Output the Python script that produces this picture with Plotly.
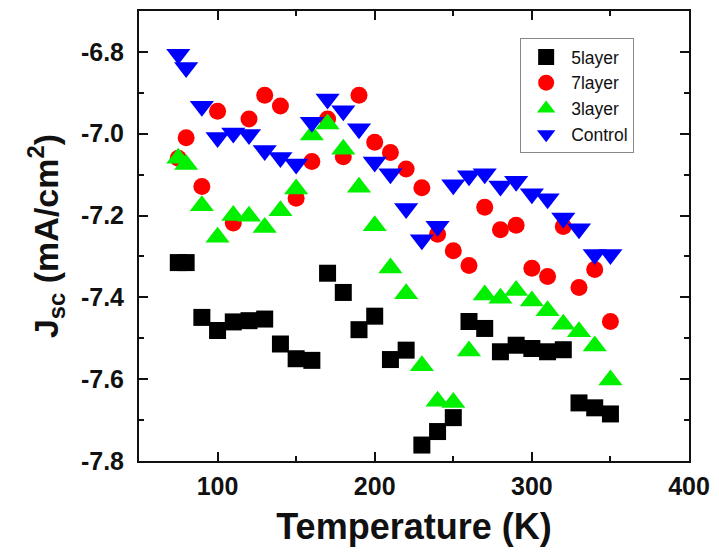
import plotly.graph_objects as go

# Temperature points (K)
temperature = [75, 80, 90, 100, 110, 120, 130, 140, 150, 160, 170, 180, 190, 200,
               210, 220, 230, 240, 250, 260, 270, 280, 290, 300, 310, 320, 330, 340, 350]

# Short-circuit current density (mA/cm^2) for each device
jsc_5layer = [-7.315, -7.315, -7.449, -7.481, -7.460, -7.457, -7.453, -7.514, -7.550, -7.554,
              -7.341, -7.388, -7.479, -7.446, -7.552, -7.529, -7.761, -7.728, -7.694, -7.459,
              -7.476, -7.533, -7.517, -7.525, -7.533, -7.528, -7.658, -7.670, -7.685]
jsc_7layer = [-7.060, -7.010, -7.129, -6.945, -7.218, -6.964, -6.906, -6.932, -7.158, -7.068,
              -6.964, -7.056, -6.906, -7.021, -7.046, -7.086, -7.132, -7.246, -7.286, -7.322,
              -7.180, -7.235, -7.224, -7.329, -7.349, -7.227, -7.376, -7.332, -7.459]
jsc_3layer = [-7.060, -7.075, -7.176, -7.253, -7.200, -7.202, -7.229, -7.188, -7.135, -7.003,
              -6.976, -7.038, -7.131, -7.225, -7.328, -7.391, -7.567, -7.654, -7.657, -7.531,
              -7.394, -7.402, -7.383, -7.409, -7.433, -7.466, -7.484, -7.519, -7.602]
jsc_control = [-6.806, -6.838, -6.933, -7.009, -6.998, -7.002, -7.041, -7.058, -7.074, -6.972,
               -6.915, -6.944, -6.988, -7.069, -7.098, -7.183, -7.259, -7.226, -7.125, -7.103,
               -7.098, -7.128, -7.116, -7.147, -7.159, -7.206, -7.232, -7.295, -7.295]

series_names = ["5layer", "7layer", "3layer", "Control"]

x_tickvals = [100, 200, 300, 400]
x_ticktext = ["100", "200", "300", "400"]
y_tickvals = [-7.8, -7.6, -7.4, -7.2, -7.0, -6.8]
y_ticktext = ["-7.8", "-7.6", "-7.4", "-7.2", "-7.0", "-6.8"]

FONT = "Liberation Sans, Arial, sans-serif"

styles = [
    dict(symbol="square", color="#000000", size=17),
    dict(symbol="circle", color="#ff0000", size=17),
    dict(symbol="triangle-up", color="#00f000", size=21),
    dict(symbol="triangle-down", color="#0000ff", size=21),
]

fig = go.Figure()
for name, ys, st in zip(series_names, [jsc_5layer, jsc_7layer, jsc_3layer, jsc_control], styles):
    fig.add_trace(go.Scatter(
        x=temperature, y=ys, name=name, mode="markers",
        marker=dict(symbol=st["symbol"], color=st["color"], size=st["size"],
                    line=dict(width=0)),
    ))

axis_common = dict(
    showline=True, linecolor="#111111", linewidth=2, mirror="allticks",
    ticks="inside", ticklen=9, tickwidth=1.5, tickcolor="#111111",
    showgrid=False, zeroline=False,
    tickfont=dict(family=FONT, size=25, color="#111111", weight="bold"),
)

fig.update_xaxes(
    range=[50, 400], tickvals=x_tickvals, ticktext=x_ticktext,
    minor=dict(ticks="inside", ticklen=5, tickwidth=1.5, tickcolor="#111111",
               tickvals=[150, 250, 350], showgrid=False),
    ticklabelstandoff=2,
    title=dict(text="Temperature (K)", standoff=15,
               font=dict(family=FONT, size=36, color="#111111", weight="bold")),
    **axis_common,
)
fig.update_yaxes(
    range=[-7.8, -6.7], tickvals=y_tickvals, ticktext=y_ticktext,
    minor=dict(ticks="inside", ticklen=5, tickwidth=1.5, tickcolor="#111111",
               tickvals=[-7.7, -7.5, -7.3, -7.1, -6.9], showgrid=False),
    ticklabelstandoff=8,
    title=dict(text="J<sub>sc</sub> (mA/cm<sup>2</sup>)", standoff=12,
               font=dict(family=FONT, size=34, color="#111111", weight="bold")),
    **axis_common,
)

fig.update_layout(
    width=719, height=554,
    margin=dict(l=139, r=30, t=9, b=93),
    paper_bgcolor="white", plot_bgcolor="white",
    font=dict(family=FONT, color="#111111"),
    legend=dict(
        x=0.693, y=0.94, xanchor="left", yanchor="top",
        bordercolor="#888888", borderwidth=1, bgcolor="white",
        font=dict(family=FONT, size=17.5, color="#111111"),
        itemsizing="trace", itemwidth=40,
    ),
    showlegend=True,
)

fig.write_html("out.html")
